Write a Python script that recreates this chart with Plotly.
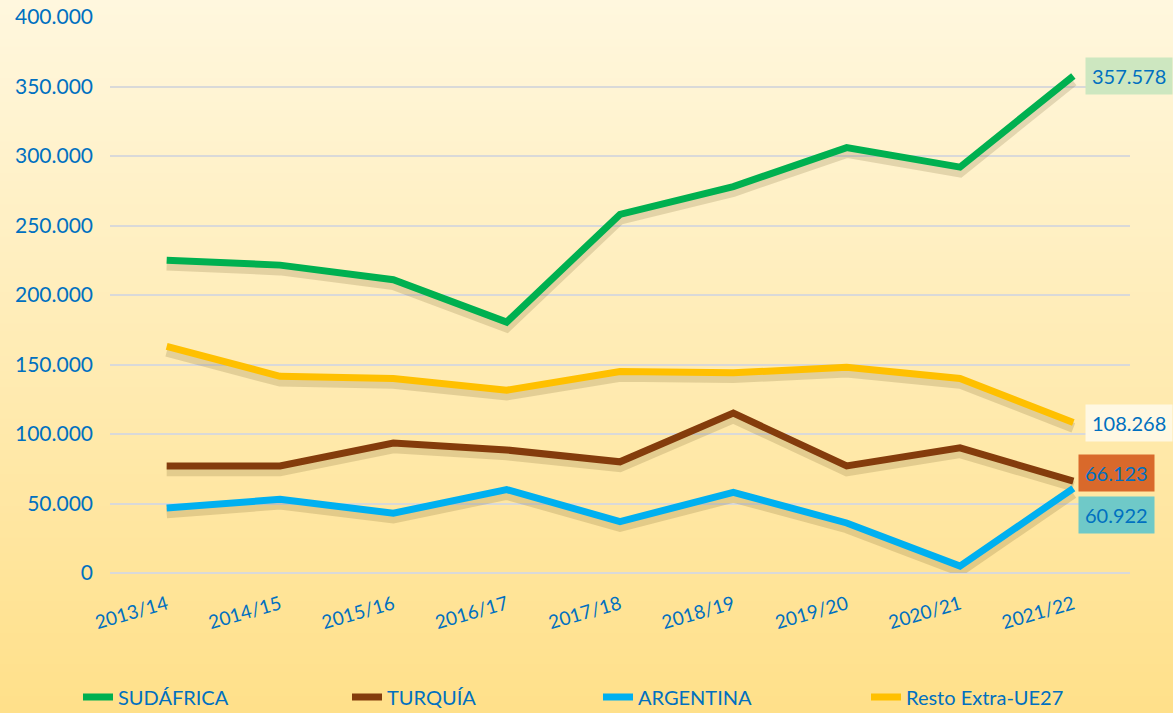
import plotly.graph_objects as go

campaigns = ["2013/14", "2014/15", "2015/16", "2016/17", "2017/18",
             "2018/19", "2019/20", "2020/21", "2021/22"]
sudafrica = [225000, 221500, 211000, 180500, 258000, 278000, 306000, 292000, 357578]
turquia = [77000, 77000, 93500, 88500, 80000, 115000, 77000, 90000, 66123]
argentina = [46800, 53000, 43000, 60000, 37000, 58000, 36000, 5000, 60922]
resto = [163000, 141500, 140000, 131500, 145000, 144000, 148000, 140000, 108268]

series_names = ["SUDÁFRICA", "TURQUÍA", "ARGENTINA", "Resto Extra-UE27"]
series_values = [sudafrica, turquia, argentina, resto]
series_colors = ["#00B050", "#843C0C", "#00B0F0", "#FFC000"]
label_bg = ["#CDE7C0", "#D9692B", "#6FC9C8", "#FFF8E2"]
label_shift = [(12, 0), (5, 8), (5, -27), (12, 0)]
legend_x_px = [78, 347, 598, 866]

TEXT_BLUE = "#0070C0"
FONT = "Lato"
W, H = 1173, 713

fig = go.Figure()

# background gradient
top = (255, 247, 222)
bot = (255, 224, 138)
n = 90
y_top = 1 + 17 / 556
y_bot = -140 / 556
shapes = []
for i in range(n):
    t = i / (n - 1)
    c = tuple(round(top[k] + (bot[k] - top[k]) * t) for k in range(3))
    y1 = y_top - (y_top - y_bot) * i / n
    y0 = y_top - (y_top - y_bot) * (i + 1) / n
    shapes.append(dict(type="rect", xref="paper", yref="paper",
                       x0=-0.3, x1=1.3, y0=y0 - 0.002, y1=y1 + 0.002,
                       fillcolor="rgb(%d,%d,%d)" % c, line=dict(width=0),
                       layer="below"))

# soft shadows
for vals in series_values:
    fig.add_trace(go.Scatter(
        x=campaigns, y=[v - 3800 for v in vals], mode="lines",
        line=dict(color="rgba(80,60,10,0.16)", width=10),
        showlegend=False, hoverinfo="skip"))

legend_keys = ["legend", "legend2", "legend3", "legend4"]
for name, vals, col, lk in zip(series_names, series_values, series_colors, legend_keys):
    fig.add_trace(go.Scatter(
        x=campaigns, y=vals, mode="lines", name=name, legend=lk,
        line=dict(color=col, width=7)))

annotations = []
for vals, bg, (dx, dy) in zip(series_values, label_bg, label_shift):
    v = vals[-1]
    annotations.append(dict(
        x=campaigns[-1], y=v, xref="x", yref="y",
        text=f"{v:,}".replace(",", "."), showarrow=False,
        xanchor="left", yanchor="middle", xshift=dx, yshift=dy,
        bgcolor=bg, borderpad=6,
        font=dict(family=FONT, size=20, color=TEXT_BLUE)))

legend_common = dict(orientation="h", xref="container", yref="container",
                     y=1 - 697 / H, xanchor="left", yanchor="middle",
                     font=dict(family=FONT, size=20, color=TEXT_BLUE),
                     bgcolor="rgba(0,0,0,0)")
legends = {}
for lk, px in zip(legend_keys, legend_x_px):
    legends[lk] = dict(legend_common, x=px / W)

fig.update_layout(
    width=W, height=H,
    margin=dict(l=110, r=43, t=17, b=140, autoexpand=False),
    paper_bgcolor="#FFEFB8",
    plot_bgcolor="rgba(0,0,0,0)",
    separators=",.",
    shapes=shapes,
    annotations=annotations,
    font=dict(family=FONT, color=TEXT_BLUE),
    showlegend=True,
    xaxis=dict(type="category", range=[-0.5, 8.5], showgrid=False,
               zeroline=False, showline=False, ticks="", automargin=False,
               tickangle=-16, ticklabelstandoff=16,
               tickfont=dict(family=FONT, size=19, color=TEXT_BLUE)),
    yaxis=dict(range=[0, 400000], dtick=50000, tickformat=",d",
               showgrid=True, gridcolor="#D9D9D9", gridwidth=2,
               zeroline=True, zerolinecolor="#D9D9D9", zerolinewidth=2,
               showline=False, ticks="", ticklabelstandoff=16, automargin=False,
               tickfont=dict(family=FONT, size=21, color=TEXT_BLUE)),
    **legends,
)

fig.write_html("out.html", config={"displayModeBar": False},
               post_script="document.body.style.margin='0';document.body.style.overflow='hidden';")
